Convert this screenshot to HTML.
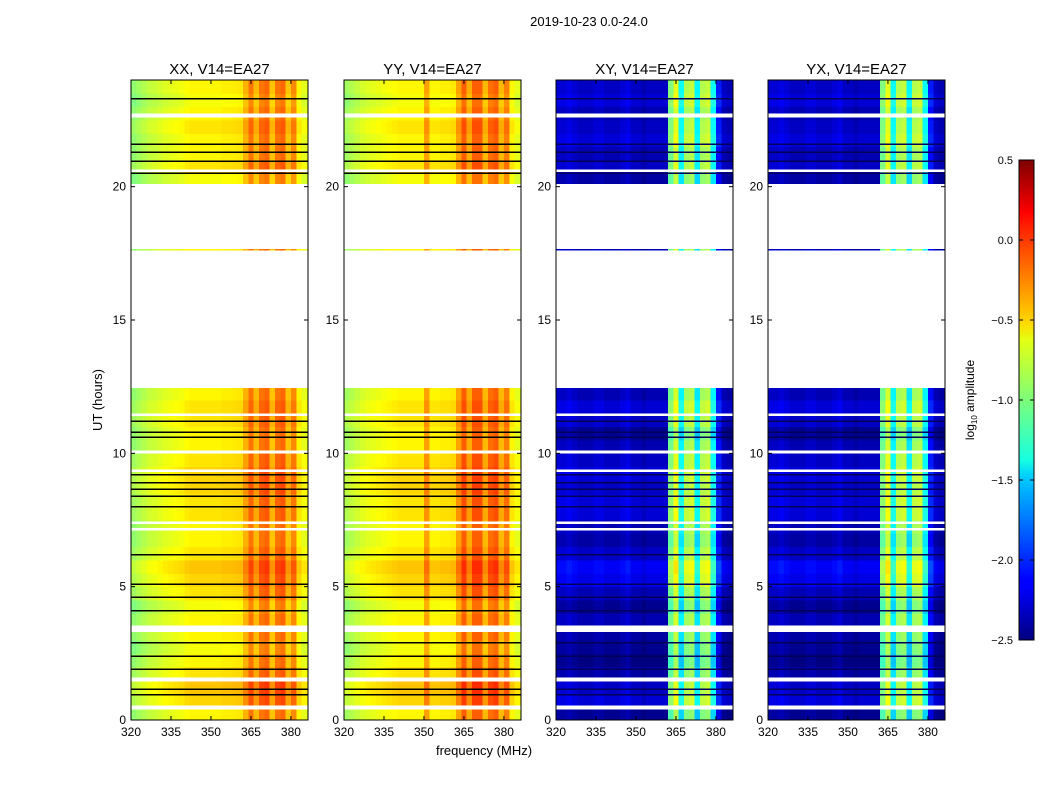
<!DOCTYPE html>
<html><head><meta charset="utf-8"><style>
body{margin:0;background:#fff;}
svg{display:block;font-family:"Liberation Sans","DejaVu Sans",sans-serif;}
</style></head><body>
<svg id="fig" width="1050" height="800" viewBox="0 0 1050 800">
<rect width="1050" height="800" fill="#fff"/>
<text x="589" y="26" font-size="13" text-anchor="middle">2019-10-23 0.0-24.0</text>
<text transform="translate(102,400) rotate(-90)" font-size="13" text-anchor="middle">UT (hours)</text>
<text x="484" y="755" font-size="13" text-anchor="middle">frequency (MHz)</text>
<g id="panels"></g>
<defs><linearGradient id="jet" x1="0" y1="1" x2="0" y2="0">
<stop offset="0" stop-color="#00007f"/><stop offset="0.11" stop-color="#0000ff"/><stop offset="0.125" stop-color="#0000ff"/><stop offset="0.34" stop-color="#00ccff"/><stop offset="0.375" stop-color="#16ffe1"/><stop offset="0.5" stop-color="#7dff7a"/><stop offset="0.625" stop-color="#e4ff13"/><stop offset="0.66" stop-color="#ffd900"/><stop offset="0.875" stop-color="#ff1300"/><stop offset="0.89" stop-color="#ff0000"/><stop offset="1" stop-color="#7f0000"/>
</linearGradient></defs>
<rect x="1019" y="160" width="15" height="480" fill="url(#jet)" stroke="#000" stroke-width="1"/>
<g id="cbticks" font-size="11" text-anchor="end"></g>
<text transform="translate(974,400) rotate(-90)" font-size="12" text-anchor="middle">log<tspan font-size="8" dy="3">10</tspan><tspan dy="-3"> amplitude</tspan></text>
</svg>
<script>
const panelTitles = ["XX, V14=EA27","YY, V14=EA27","XY, V14=EA27","YX, V14=EA27"];
const freqBins = [320,322,324,326,328,330,332,334,336,338,340,342,344,346,348,350,352,354,356,358,360,362,364,366,368,370,372,374,376,378,380,382,384];
const profXX = [-0.95,-0.9,-0.85,-0.8,-0.78,-0.75,-0.72,-0.7,-0.68,-0.66,-0.62,-0.6,-0.6,-0.6,-0.6,-0.6,-0.6,-0.58,-0.58,-0.57,-0.56,-0.4,-0.22,-0.42,-0.22,-0.18,-0.45,-0.22,-0.18,-0.45,-0.28,-0.6,-0.7];
const profYY = [-0.9,-0.85,-0.8,-0.75,-0.72,-0.7,-0.68,-0.66,-0.64,-0.62,-0.6,-0.6,-0.6,-0.6,-0.6,-0.35,-0.6,-0.6,-0.58,-0.58,-0.56,-0.35,-0.15,-0.38,-0.15,-0.15,-0.42,-0.2,-0.15,-0.42,-0.25,-0.6,-0.7];
const profXY = [-2.3,-2.3,-2.25,-2.3,-2.35,-2.35,-2.35,-2.3,-2.3,-2.35,-2.35,-2.35,-2.3,-2.25,-2.35,-2.35,-2.4,-2.35,-2.35,-2.35,-2.35,-1.05,-0.75,-1.4,-0.9,-0.85,-1.45,-0.9,-0.85,-1.4,-2.1,-2.35,-2.4];
const profYX = [-2.3,-2.3,-2.25,-2.3,-2.35,-2.35,-2.35,-2.3,-2.3,-2.35,-2.35,-2.35,-2.3,-2.25,-2.35,-2.35,-2.4,-2.35,-2.35,-2.35,-2.35,-1.05,-0.75,-1.4,-0.9,-0.85,-1.45,-0.9,-0.85,-1.4,-2.1,-2.35,-2.4];
const profiles = [profXX,profYY,profXY,profYX];
const rowOffsets = [0.0,0.1,0.15,0.05,0.0,-0.05,0.0,0.0,-0.05,0.05,0.1,0.15,0.05,0.0,0.0,0.05,0.05,0.1,0.1,0.05,0.0,0.0,0.05,0.05,0,0,0,0,0,0,0,0,0,0,0,0,0.0,0.05,0.0,0.0,-0.05,0.05,0.0,0.0,0.05,0.0,-0.05,0.0];
const crossOffsets = [-0.1,0.1,0.05,-0.05,-0.15,-0.1,-0.05,0.0,-0.1,0.0,0.15,0.2,0.05,-0.05,0.0,0.1,0.1,0.05,0.1,0.05,0.0,-0.1,0.05,0.1,0,0,0,0,0,0,0,0,0,0,0,0,0.1,0.05,0.15,0.0,-0.05,0.05,0.0,0.1,0.05,0.0,0.1,0.05];
const gaps = [[0.4,0.55],[1.45,1.6],[3.3,3.55],[7.1,7.2],[7.35,7.45],[9.3,9.4],[10.0,10.1],[11.4,11.5],[12.45,17.6],[17.67,20.1],[20.55,20.65],[22.6,22.75]];
const blackLines = [0.95,1.15,1.9,2.4,2.9,4.1,4.6,5.1,6.2,8.0,8.4,8.65,8.9,9.2,10.6,10.8,11.2,20.5,20.95,21.3,21.6,23.3];
const xTicks = [320,335,350,365,380];
const yTicks = [0,5,10,15,20];
const cbTicks = [0.5,0.0,-0.5,-1.0,-1.5,-2.0,-2.5];

const panelX = [131,344,556,768], PW=177, PT=80, PB=720;
const fx = (p,f)=>panelX[p]+(f-320)*(PW/66.4);
const ty = t=>PB-(t)*(PB-PT)/24;
function jet(v){let t=(v+2.5)/3;t=Math.max(0,Math.min(1,t));
 const c=x=>Math.round(255*Math.max(0,Math.min(1,x)));
 const r=c(1.5-Math.abs(4*t-3)),g=c(1.5-Math.abs(4*t-2)),b=c(1.5-Math.abs(4*t-1));
 return `rgb(${r},${g},${b})`;}
const NS='http://www.w3.org/2000/svg';
function mk(tag,attrs,parent){const e=document.createElementNS(NS,tag);for(const k in attrs)e.setAttribute(k,attrs[k]);parent.appendChild(e);return e;}
const root=document.getElementById('panels');
for(let p=0;p<4;p++){
 const g=mk('g',{},root);
 
 
 const hm=mk('g',{'shape-rendering':'crispEdges'},g);
 
 
 const offs = p<2?rowOffsets:crossOffsets;
 for(let r=0;r<48;r++){
  const t0=r*0.5,t1=t0+0.5;
  for(let c=0;c<freqBins.length;c++){
   const f0=freqBins[c],f1=c+1<freqBins.length?freqBins[c+1]:386.4;
   const v=profiles[p][c]+offs[r];
   const x0=fx(p,f0),x1=fx(p,f1);
   const cell=mk('rect',{x:x0,y:ty(t1),width:x1-x0+0.5,height:ty(t0)-ty(t1)+0.5,fill:jet(v)},hm);
   
   
  }
 }
 for(const [a,b] of gaps){
  const gr=mk('rect',{x:panelX[p],y:ty(b),width:PW,height:ty(a)-ty(b),fill:'#fff'},hm);
  
  
 }
 for(const t of blackLines){
  const l=mk('line',{x1:panelX[p],x2:panelX[p]+PW,y1:ty(t),y2:ty(t),stroke:p<2?'#000':'#00005a','stroke-width':1.5},hm);
  
  
 }
 const fr=mk('rect',{x:panelX[p],y:PT,width:PW,height:PB-PT,fill:'none',stroke:'#000','stroke-width':1},g);
 
 
 const tt=mk('text',{x:panelX[p]+PW/2,y:74,'font-size':15,'text-anchor':'middle'},g);
 tt.textContent=panelTitles[p];
 
 
 for(const f of xTicks){const x=fx(p,f);
  mk('line',{x1:x,x2:x,y1:PB,y2:PB-4,stroke:'#000'},g);
  mk('line',{x1:x,x2:x,y1:PT,y2:PT+4,stroke:'#000'},g);
  const tx=mk('text',{x:x,y:PB+16,'font-size':12,'text-anchor':'middle'},g);tx.textContent=f;
  
  }
 for(const t of yTicks){const y=ty(t);
  mk('line',{x1:panelX[p],x2:panelX[p]+4,y1:y,y2:y,stroke:'#000'},g);
  mk('line',{x1:panelX[p]+PW,x2:panelX[p]+PW-4,y1:y,y2:y,stroke:'#000'},g);
  const tx=mk('text',{x:panelX[p]-5,y:y+4,'font-size':12,'text-anchor':'end'},g);tx.textContent=t;
  
  }
}
const cb=document.getElementById('cbticks');
for(const v of cbTicks){const y=160+(0.5-v)/3*480;
 mk('line',{x1:1019,x2:1023,y1:y,y2:y,stroke:'#000'},cb);
 mk('line',{x1:1030,x2:1034,y1:y,y2:y,stroke:'#000'},cb);
 const tx=mk('text',{x:1013,y:y+4},cb);tx.textContent=(v<0?'\u2212':'')+Math.abs(v).toFixed(1);
 
 }
</script>
</body></html>
